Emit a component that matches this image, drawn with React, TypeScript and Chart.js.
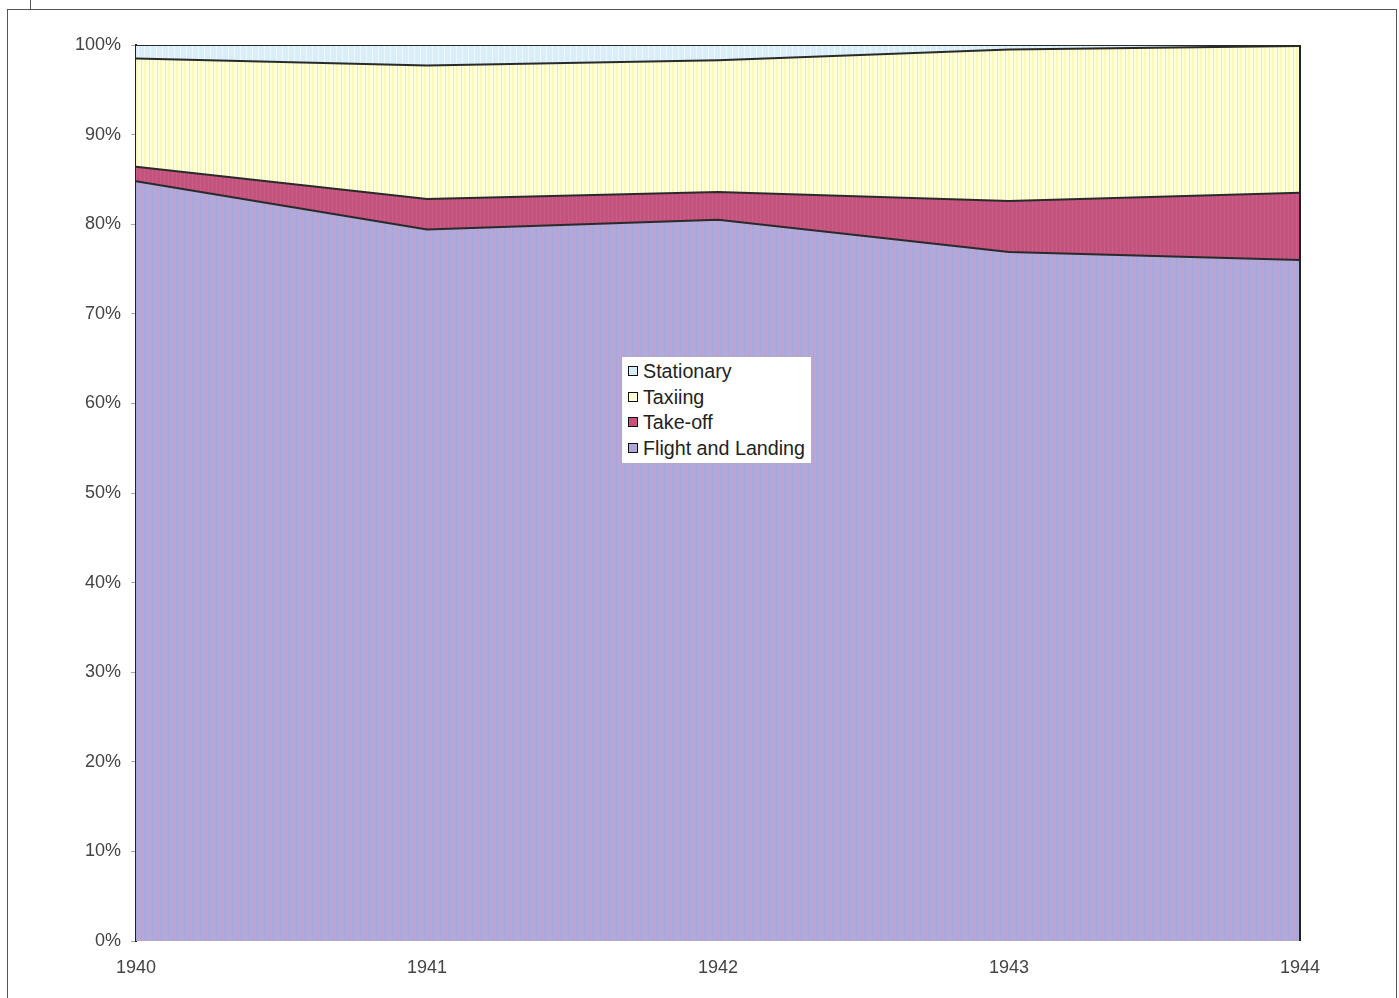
import React, { useEffect, useRef } from "react";
import { Chart, registerables } from "chart.js";

Chart.register(...registerables);

const categories = ["1940", "1941", "1942", "1943", "1944"];
const flightLanding = [84.8, 79.4, 80.5, 76.9, 76.0];
const takeOff = [1.6, 3.4, 3.1, 5.7, 7.5];
const taxiing = [12.1, 14.9, 14.7, 16.9, 16.4];
const stationary = [1.5, 2.3, 1.7, 0.5, 0.1];
const yTicks = [0, 10, 20, 30, 40, 50, 60, 70, 80, 90, 100];

const legendItems = [
  { label: "Stationary", color: "#d8ecf8" },
  { label: "Taxiing", color: "#ffffd8" },
  { label: "Take-off", color: "#c4527e" },
  { label: "Flight and Landing", color: "#b0a6d8" },
];

function makePattern(base: string, stripes: { x: number; w: number; c: string }[], width: number) {
  const c = document.createElement("canvas");
  c.width = width;
  c.height = 8;
  const ctx = c.getContext("2d")!;
  ctx.fillStyle = base;
  ctx.fillRect(0, 0, width, 8);
  stripes.forEach((s) => {
    ctx.fillStyle = s.c;
    ctx.fillRect(s.x, 0, s.w, 8);
  });
  const p = ctx.createPattern(c, "repeat");
  return p || base;
}

const edgePlugin = {
  id: "edges",
  afterDatasetsDraw(chart: any) {
    const { ctx, chartArea } = chart;
    ctx.save();
    ctx.strokeStyle = "#222";
    ctx.lineWidth = 2;
    ctx.beginPath();
    ctx.moveTo(chartArea.right, chartArea.top);
    ctx.lineTo(chartArea.right, chartArea.bottom);
    ctx.stroke();
    ctx.restore();
  },
};

export default function App() {
  const ref = useRef<HTMLCanvasElement>(null);

  useEffect(() => {
    if (!ref.current) return;
    const flightPat = makePattern(
      "#b4a8d6",
      [
        { x: 0, w: 2, c: "#a6a8de" },
        { x: 8, w: 2, c: "#a6a8de" },
        { x: 13, w: 1, c: "#c49ccc" },
      ],
      16
    );
    const taxiPat = makePattern(
      "#ffffda",
      [
        { x: 0, w: 2, c: "#f8f8b8" },
        { x: 5, w: 1, c: "#dcecd0" },
      ],
      8
    );
    const statPat = makePattern("#daeef8", [{ x: 0, w: 1, c: "#eef8fc" }], 6);
    const takePat = makePattern("#c4527e", [{ x: 0, w: 1, c: "#c85e86" }], 4);

    const common = {
      borderColor: "#2a2a2a",
      borderWidth: 2,
      pointRadius: 0,
      tension: 0,
    };

    const chart = new Chart(ref.current, {
      type: "line",
      data: {
        labels: categories,
        datasets: [
          { ...common, label: "Flight and Landing", data: flightLanding, backgroundColor: flightPat as any, fill: "origin" },
          { ...common, label: "Take-off", data: takeOff, backgroundColor: takePat as any, fill: "-1" },
          { ...common, label: "Taxiing", data: taxiing, backgroundColor: taxiPat as any, fill: "-1" },
          { ...common, label: "Stationary", data: stationary, backgroundColor: statPat as any, fill: "-1" },
        ],
      },
      options: {
        animation: false,
        responsive: false,
        layout: { padding: { left: 0, right: 99, top: 45, bottom: 0 } },
        plugins: { legend: { display: false }, tooltip: { enabled: false } },
        scales: {
          x: {
            offset: false,
            grid: { display: false, drawTicks: false },
            border: { display: false },
            ticks: {
              padding: 16,
              color: "#444",
              font: { family: "'Liberation Sans', Arial", size: 18 },
              maxRotation: 0,
              autoSkip: false,
            },
            afterFit: (s: any) => {
              s.height = 57;
            },
          },
          y: {
            stacked: true,
            min: 0,
            max: 100,
            afterBuildTicks: (s: any) => {
              s.ticks = yTicks.map((v) => ({ value: v }));
            },
            grid: { drawOnChartArea: false, drawTicks: true, tickLength: 5, color: "#aaa" },
            border: { display: true, color: "#222", width: 2 },
            ticks: {
              padding: 10,
              color: "#444",
              font: { family: "'Liberation Sans', Arial", size: 18 },
              callback: (v: any) => v + "%",
            },
            afterFit: (s: any) => {
              s.width = 136;
            },
          },
        },
      },
      plugins: [edgePlugin],
    });
    return () => chart.destroy();
  }, []);

  return (
    <div style={{ position: "absolute", left: 0, top: 0, width: 1399, height: 998, overflow: "hidden", background: "#fff" }}>
      <div
        style={{
          position: "absolute",
          left: 7,
          top: 9,
          width: 1390,
          height: 1100,
          border: "1px solid #555",
          boxSizing: "border-box",
        }}
      />
      <div style={{ position: "absolute", left: 30, top: 0, width: 1, height: 9, background: "#555" }} />
      <canvas ref={ref} width={1399} height={998} style={{ position: "absolute", left: 0, top: 0 }} />
      <div
        style={{
          position: "absolute",
          left: 622,
          top: 357,
          width: 189,
          height: 106,
          background: "#fff",
          fontFamily: "'Liberation Sans', Arial, sans-serif",
          fontSize: 19.7,
          color: "#222",
        }}
      >
        {legendItems.map((it, i) => (
          <div key={it.label} style={{ position: "absolute", left: 0, top: 3 + i * 25.7, height: 24, width: 189 }}>
            <div
              style={{
                position: "absolute",
                left: 6,
                top: 6,
                width: 10,
                height: 10,
                border: "1px solid #111",
                background: it.color,
                boxSizing: "border-box",
              }}
            />
            <div style={{ position: "absolute", left: 21, top: 0, lineHeight: "22px", whiteSpace: "nowrap" }}>{it.label}</div>
          </div>
        ))}
      </div>
    </div>
  );
}
